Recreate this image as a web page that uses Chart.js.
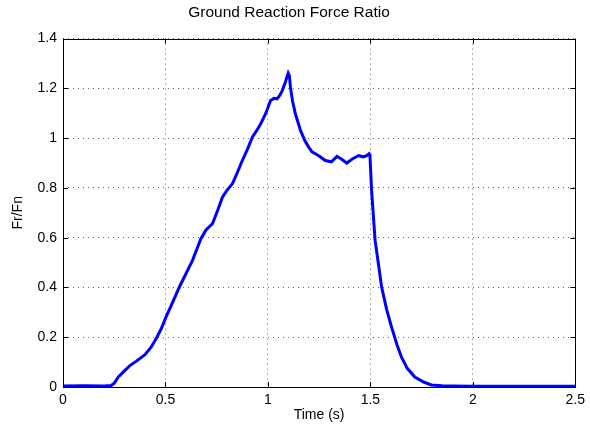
<!DOCTYPE html>
<html>
<head>
<meta charset="utf-8">
<script src="https://cdn.jsdelivr.net/npm/chart.js@4"></script>
<style>
  html, body { margin: 0; padding: 0; background: #fff; }
  #wrap { width: 590px; height: 432px; }
</style>
</head>
<body>
<div id="wrap"><canvas id="grf"></canvas></div>
<script>
// values
const timeS = [0, 0.1, 0.2, 0.235, 0.25, 0.27, 0.3, 0.325, 0.36, 0.4, 0.43, 0.455, 0.48, 0.503,
  0.535, 0.568, 0.6, 0.632, 0.673, 0.697, 0.73, 0.755, 0.778, 0.8, 0.827, 0.85, 0.875, 0.9,
  0.924, 0.945, 0.965, 0.99, 1.013, 1.03, 1.045, 1.06, 1.07, 1.085, 1.099, 1.105, 1.11,
  1.12, 1.134, 1.159, 1.18, 1.199, 1.215, 1.232, 1.255, 1.28, 1.31, 1.337, 1.36, 1.385,
  1.41, 1.442, 1.465, 1.482, 1.494, 1.498, 1.506, 1.523, 1.54, 1.555, 1.58, 1.603, 1.63,
  1.652, 1.68, 1.717, 1.76, 1.798, 1.85, 1.9, 2.0, 2.2, 2.5];
const ratio = [0.004, 0.005, 0.004, 0.006, 0.015, 0.04, 0.065, 0.085, 0.105, 0.13, 0.16, 0.195, 0.235, 0.282,
  0.34, 0.402, 0.455, 0.509, 0.596, 0.63, 0.657, 0.71, 0.763, 0.79, 0.817, 0.86, 0.91, 0.955,
  1.004, 1.03, 1.058, 1.1, 1.151, 1.16, 1.158, 1.175, 1.191, 1.225, 1.261, 1.25, 1.205,
  1.15, 1.098, 1.031, 0.99, 0.964, 0.945, 0.937, 0.925, 0.91, 0.905, 0.927, 0.915, 0.9,
  0.915, 0.93, 0.925, 0.93, 0.937, 0.93, 0.79, 0.59, 0.49, 0.402, 0.31, 0.242, 0.17,
  0.12, 0.075, 0.04, 0.02, 0.008, 0.005, 0.004, 0.003, 0.003, 0.003];
const xTicks = [0, 0.5, 1, 1.5, 2, 2.5];
const yTicks = [0, 0.2, 0.4, 0.6, 0.8, 1, 1.2, 1.4];

const FONT = 'Liberation Sans, Arial, Helvetica, sans-serif';

// matlab-like box with ticks pointing inward
const boxPlugin = {
  id: 'box',
  afterDatasetsDraw(chart) {
    const { ctx, chartArea: a, scales } = chart;
    ctx.save();
    ctx.strokeStyle = '#000';
    ctx.lineWidth = 1;
    ctx.beginPath();
    xTicks.forEach(v => {
      const px = Math.round(scales.x.getPixelForValue(v)) + 0.5;
      ctx.moveTo(px, a.bottom); ctx.lineTo(px, a.bottom - 5);
      ctx.moveTo(px, a.top); ctx.lineTo(px, a.top + 5);
    });
    yTicks.forEach(v => {
      const py = Math.round(scales.y.getPixelForValue(v)) + 0.5;
      ctx.moveTo(a.left, py); ctx.lineTo(a.left + 5, py);
      ctx.moveTo(a.right, py); ctx.lineTo(a.right - 5, py);
    });
    ctx.stroke();
    ctx.strokeRect(Math.round(a.left) + 0.5, Math.round(a.top) + 0.5,
      Math.round(a.right - a.left), Math.round(a.bottom - a.top));
    ctx.restore();
  }
};

const points = timeS.map((t, i) => ({ x: t, y: ratio[i] }));

new Chart(document.getElementById('grf'), {
  type: 'line',
  data: {
    datasets: [{
      data: points,
      borderColor: '#0000ff',
      borderWidth: 3,
      pointRadius: 0,
      tension: 0,
      fill: false
    }]
  },
  options: {
    responsive: true,
    maintainAspectRatio: false,
    animation: false,
    layout: { padding: { left: 0, right: 12, top: 0, bottom: 0 } },
    plugins: {
      legend: { display: false },
      tooltip: { enabled: false },
      title: {
        display: true,
        text: 'Ground Reaction Force Ratio',
        color: '#000',
        font: { family: FONT, size: 15.5, weight: 'normal' },
        padding: { top: 3, bottom: 17 }
      }
    },
    scales: {
      x: {
        type: 'linear',
        min: 0, max: 2.5,
        afterBuildTicks: s => { s.ticks = xTicks.map(v => ({ value: v })); },
        afterFit: s => { s.height = 45; },
        border: { display: false, dash: [1, 4] },
        grid: { color: '#666', drawTicks: false, lineWidth: 1 },
        ticks: { color: '#000', padding: 5, maxRotation: 0, font: { family: FONT, size: 14 }, callback: v => String(v) },
        title: { display: true, text: 'Time (s)', color: '#000', font: { family: FONT, size: 14 }, padding: { top: 0, bottom: 8 } }
      },
      y: {
        min: 0, max: 1.4,
        afterBuildTicks: s => { s.ticks = yTicks.map(v => ({ value: v })); },
        afterFit: s => { s.width = 63; },
        border: { display: false, dash: [1, 4] },
        grid: { color: '#666', drawTicks: false, lineWidth: 1 },
        ticks: { color: '#000', padding: 6, font: { family: FONT, size: 14 }, callback: v => String(v) },
        title: { display: true, text: 'Fr/Fn', color: '#000', font: { family: FONT, size: 14 }, padding: { top: 10, bottom: 0 } }
      }
    }
  },
  plugins: [boxPlugin]
});
</script>
</body>
</html>
